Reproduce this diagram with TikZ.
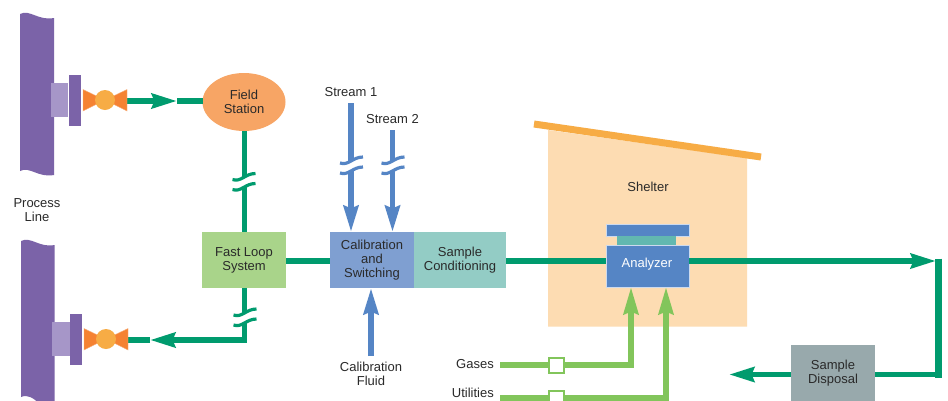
\documentclass[tikz,border=0pt]{standalone}
\usepackage{fontspec}
\setmainfont{Liberation Sans}
\usetikzlibrary{arrows.meta,shapes.geometric}
\definecolor{pipeC}{HTML}{7B63A8}
\definecolor{flangeC}{HTML}{A696C8}
\definecolor{flowC}{HTML}{009B6E}
\definecolor{fieldC}{HTML}{F7A565}
\definecolor{fastC}{HTML}{A9D48A}
\definecolor{calC}{HTML}{7F9FD1}
\definecolor{condC}{HTML}{93CCC5}
\definecolor{shelterC}{HTML}{FDDCB2}
\definecolor{roofC}{HTML}{F7AC45}
\definecolor{anaC}{HTML}{5585C5}
\definecolor{tealC}{HTML}{62B8B0}
\definecolor{utilC}{HTML}{82C55B}
\definecolor{dispC}{HTML}{98A9AC}
\definecolor{valveC}{HTML}{F58232}
\definecolor{txtC}{HTML}{2A2A2A}
\tikzset{
  x=1pt,y=-1pt,
  lbl/.style={font=\fontsize{13}{14}\selectfont,text=txtC,align=center,inner sep=0pt},
  boxn/.style={inner sep=0pt,outer sep=0pt,minimum width=#1},
  flow/.style={draw=flowC,line width=5.7pt},
  flowhead/.style={flow,-{Stealth[length=25pt,width=14.5pt,inset=2.5pt]}},
  blueflow/.style={draw=anaC,line width=5.8pt,-{Stealth[length=26pt,width=14.5pt,inset=2.5pt]}},
  utilflow/.style={draw=utilC,line width=5.7pt},
  utilhead/.style={utilflow,-{Stealth[length=27pt,width=14.5pt,inset=2.5pt]}},
  tap/.style={draw=utilC,line width=2pt,fill=white,inner sep=0pt,minimum size=15pt},
}
\newcommand{\linebreakmark}[3]{% x, y, colour: y is the centre of the break
  \fill[white] (#1-11.5,#2-2) .. controls (#1-3,#2+1) and (#1+1,#2-8) .. (#1+11.5,#2-8)
    -- (#1+11.5,#2+2) .. controls (#1+1,#2+2) and (#1-3,#2+11) .. (#1-11.5,#2+8) -- cycle;
  \draw[#3,line width=3.2pt] (#1-11.5,#2-2) .. controls (#1-3,#2+1) and (#1+1,#2-8) .. (#1+11.5,#2-8);
  \draw[#3,line width=3.2pt] (#1-11.5,#2+8) .. controls (#1-3,#2+11) and (#1+1,#2+2) .. (#1+11.5,#2+2);
}
\newcommand{\valveat}[2]{%
  \fill[valveC,draw=valveC!60!white,line width=.4pt] (#1-22,#2-10.5) -- (#1-22,#2+11) -- (#1,#2) -- cycle;
  \fill[valveC,draw=valveC!60!white,line width=.4pt] (#1+22,#2-10.5) -- (#1+22,#2+11) -- (#1,#2) -- cycle;
  \fill[roofC] (#1,#2) circle[radius=10];
}
\begin{document}
\begin{tikzpicture}
\clip (0,0) rectangle (948,400);
\fill[white] (0,0) rectangle (948,400);
% process pipes
\fill[pipeC] (20,14) .. controls (30,9) and (38,21) .. (54,18) -- (54,175)
  .. controls (38,178) and (30,166) .. (20,171) -- cycle;
\fill[pipeC] (21,241) .. controls (31,236) and (39,248) .. (54.5,245) -- (54.5,404) -- (40,404)
  .. controls (33,398) and (28,394) .. (21,397) -- cycle;
\fill[flangeC] (51,83) rectangle (68,117);
\fill[pipeC] (69,75) rectangle (81,126);
\fill[flangeC] (52,322) rectangle (70,356);
\fill[pipeC] (70,314) rectangle (82,365);
% shelter
\fill[shelterC] (548,130) -- (747,158) -- (747,326.5) -- (548,326.5) -- cycle;
\draw[roofC,line width=7pt] (534,124) -- (761,157);
% coordinates
\coordinate (mainy) at (0,261);
\coordinate (trunk) at (244.5,0);
\coordinate (v1) at (127,101);
\coordinate (tip1) at (177,101);
\coordinate (v2) at (128,340);
\coordinate (stub2) at (150,340);
\coordinate (corner2) at (244.5,340);
\coordinate (ctip) at (936,261);
\coordinate (cornerA) at (938.5,258.5);
\coordinate (cornerB) at (938.5,377.5);
\coordinate (disptip) at (729,374.5);
\coordinate (s1) at (351,103);
\coordinate (s2) at (392.5,130);
\coordinate (cf) at (371,356);
\coordinate (g1) at (500,365);
\coordinate (g2) at (631,365);
\coordinate (u1) at (500,398);
\coordinate (u2) at (666,398);
% nodes
\node[ellipse,fill=fieldC,minimum width=83pt,minimum height=58pt,inner sep=0pt,outer sep=0pt] (field) at (244,102) {};
\node[fill=fastC,boxn=84pt,minimum height=56pt] (fast) at (244,260) {};
\node[fill=calC,boxn=84pt,minimum height=56pt] (cal) at (372,260) {};
\node[fill=condC,boxn=92pt,minimum height=56pt] (cond) at (460,260) {};
\node[fill=anaC,draw=white!70!anaC,line width=.4pt,boxn=83pt,minimum height=42pt] (ana) at (647.5,266) {};
\node[fill=anaC,draw=white!70!anaC,line width=.4pt,boxn=83pt,minimum height=12pt] (plate) at (647.5,230) {};
\node[fill=tealC,boxn=59pt,minimum height=9pt] (teal) at (646.5,240.5) {};
\node[fill=dispC,boxn=84pt,minimum height=56pt] (disp) at (833,373) {};
% green flow
\draw[flowhead] (v1) -- (tip1);
\draw[flow] (tip1) -- (field.west |- tip1);
\draw[flow] (trunk |- field.south) -- (trunk |- fast.north);
\draw[flowhead] (trunk |- fast.south) -- (corner2) -- (stub2);
\draw[flow] (stub2) -- (v2);
\draw[flow] (fast.east |- mainy) -- (cal.west |- mainy);
\draw[flow] (cond.east |- mainy) -- (ana.west |- mainy);
\draw[flowhead] (ana.east |- mainy) -- (ctip);
\draw[draw=flowC,line width=7pt] (cornerA) -- (cornerB);
\draw[flow] (cornerA |- disptip) -- (disp.east |- disptip);
\draw[flowhead] (disp.west |- disptip) -- (disptip);
\linebreakmark{244}{181.5}{flowC}
\linebreakmark{245}{317}{flowC}
% blue streams
\draw[blueflow] (s1) -- (s1 |- cal.north);
\draw[blueflow] (s2) -- (s2 |- cal.north);
\draw[blueflow] (cf) -- (cf |- cal.south);
\linebreakmark{351.5}{165}{anaC}
\linebreakmark{393}{165}{anaC}
% utilities
\draw[utilhead] (g1) -- (g2) -- (g2 |- ana.south);
\draw[utilhead] (u1) -- (u2) -- (u2 |- ana.south);
\node[tap] (t1) at (556.5,365) {};
\node[tap] (t2) at (556.5,398) {};
% valves
\valveat{105}{100}
\valveat{106}{339}
% text
\node[lbl] at (field.center) {Field\\Station};
\node[lbl] at (fast.center) {Fast Loop\\System};
\node[lbl] at (372,260) {Calibration\\and\\Switching};
\node[lbl] at (460,260) {Sample\\Conditioning};
\node[lbl,text=white] at (647,264) {Analyzer};
\node[lbl] at (833,373) {Sample\\Disposal};
\node[lbl] at (648,187) {Shelter};
\node[lbl] at (37,210) {Process\\Line};
\node[lbl] at (351,92) {Stream 1};
\node[lbl] at (392.5,119) {Stream 2};
\node[lbl] at (371,374) {Calibration\\Fluid};
\node[lbl,anchor=east] at (494,364) {Gases};
\node[lbl,anchor=east] at (494,393) {Utilities};
\end{tikzpicture}
\end{document}
